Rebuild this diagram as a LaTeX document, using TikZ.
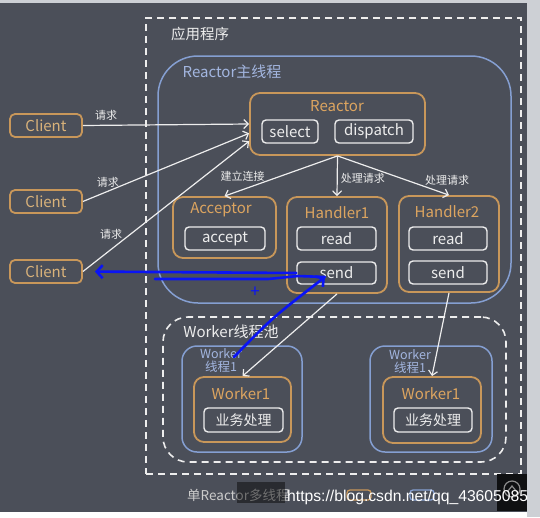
\documentclass[tikz,border=0pt]{standalone}
\usepackage{fontspec}
\setmainfont{Noto Sans CJK SC}
\newfontfamily\urlfont{Liberation Sans}
\usetikzlibrary{shapes}
\usetikzlibrary{arrows.meta}
\usetikzlibrary{positioning}
\definecolor{bgdark}{HTML}{4B4F59}
\definecolor{bglight}{HTML}{CDD0D5}
\definecolor{boxorange}{HTML}{C8975A}
\definecolor{txtorange}{HTML}{DDA560}
\definecolor{clienttxt}{HTML}{D9B27A}
\definecolor{lineblue}{HTML}{859FD2}
\definecolor{txtblue}{HTML}{A3B6E0}
\definecolor{linewhite}{HTML}{EDEDED}
\definecolor{inkblue}{HTML}{0A14F5}

\begin{document}
\begin{tikzpicture}[x=1pt,y=-1pt,>={Straight Barb[length=4.5pt,width=9pt]}]
	\tikzstyle{every node}=[inner sep=0pt,font=\fontsize{15}{17}\selectfont,text=linewhite]
	\tikzstyle{dashbox}=[draw=linewhite,line width=1.6pt,dash pattern=on 7pt off 5pt]
	\tikzstyle{bluebox}=[draw=lineblue,line width=1.5pt]
	\tikzstyle{orangebox}=[draw=boxorange,line width=1.8pt,rounded corners=10pt]
	\tikzstyle{clientbox}=[draw=boxorange,line width=1.8pt,rounded corners=5pt,minimum width=72pt,minimum height=23pt,text=clienttxt]
	\tikzstyle{opbox}=[draw=linewhite,line width=1.4pt,rounded corners=4pt,minimum height=23pt]
	\tikzstyle{otitle}=[text=txtorange]
	\tikzstyle{lbl}=[font=\fontsize{11}{12}\selectfont]
	\tikzstyle{arr}=[->,draw=linewhite,line width=1.2pt]
	\tikzstyle{ink}=[draw=inkblue,line width=2.6pt,line cap=round,line join=round]
	\tikzstyle{inkhead}=[-{Straight Barb[length=6pt,width=13pt]}]
	
	\fill[bglight] (0,0) rectangle (540,517);
	\fill[bgdark] (0,3) rectangle (527,512);
	\fill[white] (0,512) rectangle (527,517);
	
	\node[dashbox,minimum width=375pt,minimum height=456pt] (app) at (333.5,246) {};
	\node[font=\fontsize{14.5}{16}\selectfont] (apptitle) at (200,34) {应用程序};
	\node[bluebox,rounded corners=40pt,minimum width=353pt,minimum height=247pt] (main) at (334.5,179.5) {};
	\node[text=txtblue] (maintitle) at (232,72) {Reactor主线程};
	
	\node[orangebox,minimum width=175pt,minimum height=62pt] (reactor) at (337.5,124) {};
	\node[otitle] (reactortitle) at (337,106) {Reactor};
	\node[opbox,minimum width=56pt] (select) at (290,131.5) {select};
	\node[opbox,minimum width=78pt] (dispatch) at (374,131.5) {dispatch};
	
	\node[orangebox,minimum width=103pt,minimum height=61pt] (acceptor) at (224.5,227.5) {};
	\node[otitle] (acceptortitle) at (221,210) {Acceptor};
	\node[opbox,minimum width=80pt] (accept) at (225,238.5) {accept};
	
	\node[orangebox,minimum width=100pt,minimum height=96pt] (handler1) at (337,245) {};
	\node[otitle] (handler1title) at (337,213) {Handler1};
	\node[opbox,minimum width=79pt] (read1) at (336.5,238.5) {read};
	\node[opbox,minimum width=79pt,minimum height=22pt] (send1) at (336.5,273) {send};
	
	\node[orangebox,minimum width=100pt,minimum height=96pt] (handler2) at (449,244) {};
	\node[otitle] (handler2title) at (447,212) {Handler2};
	\node[opbox,minimum width=78pt] (read2) at (448,238.5) {read};
	\node[opbox,minimum width=78pt] (send2) at (448,272.5) {send};
	
	\node[clientbox] (client1) at (46,125.5) {Client};
	\node[clientbox] (client2) at (46,201.5) {Client};
	\node[clientbox] (client3) at (46,271.5) {Client};
	
	\node[dashbox,rounded corners=25pt,minimum width=343pt,minimum height=145pt] (pool) at (334.5,389.5) {};
	\node (pooltitle) at (231,332) {Worker线程池};
	
	\node[bluebox,rounded corners=15pt,minimum width=120pt,minimum height=106pt] (wt1) at (242,399) {};
	\node[text=txtblue,align=center,font=\fontsize{12.5}{13}\selectfont] (wt1label) at (221,361) {Worker\\线程1};
	\node[orangebox,minimum width=97pt,minimum height=65pt] (worker1) at (242.5,409.5) {};
	\node[otitle] (worker1title) at (241,394) {Worker1};
	\node[opbox,minimum width=79pt,minimum height=24pt,font=\fontsize{14}{15}\selectfont] (biz1) at (243.5,420) {业务处理};
	
	\node[bluebox,rounded corners=15pt,minimum width=122pt,minimum height=106pt] (wt2) at (431,399) {};
	\node[text=txtblue,align=center,font=\fontsize{12.5}{13}\selectfont] (wt2label) at (410,362) {Worker\\线程1};
	\node[orangebox,minimum width=98pt,minimum height=66pt] (worker2) at (432,410) {};
	\node[otitle] (worker2title) at (431,394) {Worker1};
	\node[opbox,minimum width=78pt,minimum height=24pt,font=\fontsize{14}{15}\selectfont] (biz2) at (433,420) {业务处理};
	
	\draw[arr] (client1.east) -- (reactor.180) node[lbl,above=4pt,pos=0.14] (req1) {请求};
	\draw[arr] (client2.east) -- (reactor.186) node[lbl,above=3pt,pos=0.15] (req2) {请求};
	\draw[arr] (client3.east) -- (reactor.191) node[lbl,above=9pt,pos=0.17] (req3) {请求};
	\draw[arr] (reactor.south) -- (acceptor.north) node[lbl,anchor=south east,pos=0.64] (build) {建立连接};
	\draw[arr] (reactor.south) -- (handler1.north) node[lbl,right=3pt,pos=0.57] (deal1) {处理请求};
	\draw[arr] (reactor.south) -- (handler2.north) node[lbl,anchor=south west,pos=0.78] (deal2) {处理请求};
	\draw[arr] (handler1.south) -- (worker1.north);
	\draw[arr] (handler2.south) -- (worker2.north);
	
	\coordinate (inkA) at (234,357);
	\coordinate (inkB) at (155,279);
	\coordinate (inktip) at (325,277);
	\draw[ink,inkhead] (inkA) .. controls (272,318) .. (inktip);
	\draw[ink,inkhead,shorten >=12pt] (send1.west) -- (client3.east);
	\draw[ink] (inkB) -- (268,279) -- (298,276) -- (inktip);
	\node[text=inkblue,font=\fontsize{17}{18}\selectfont] (plus) at (255,292.5) {+};
	
	\node[anchor=west,text=black!20,font=\fontsize{13.5}{15}\selectfont] (caption) at (187,495) {单Reactor多线程};
	\fill[black,fill opacity=0.45] (237,482) rectangle (285,503);
	\draw[boxorange,line width=1.3pt,rounded corners=3pt] (347,490) rectangle (371,500);
	\draw[lineblue,line width=1.3pt,rounded corners=3pt] (410,490) rectangle (434,500);
	\fill[black!80!bgdark] (497,474) rectangle (527,511);
	\draw[black!45,line width=1.2pt] (512,489) circle (8);
	\draw[black!45,line width=1.2pt] (507,492) -- (512,486) -- (517,492);
	\node[anchor=west,font=\urlfont\fontsize{15.7}{17}\selectfont,text=white] (mark) at (287,497) {https://blog.csdn.net/qq\_43605085};
\end{tikzpicture}
\end{document}
